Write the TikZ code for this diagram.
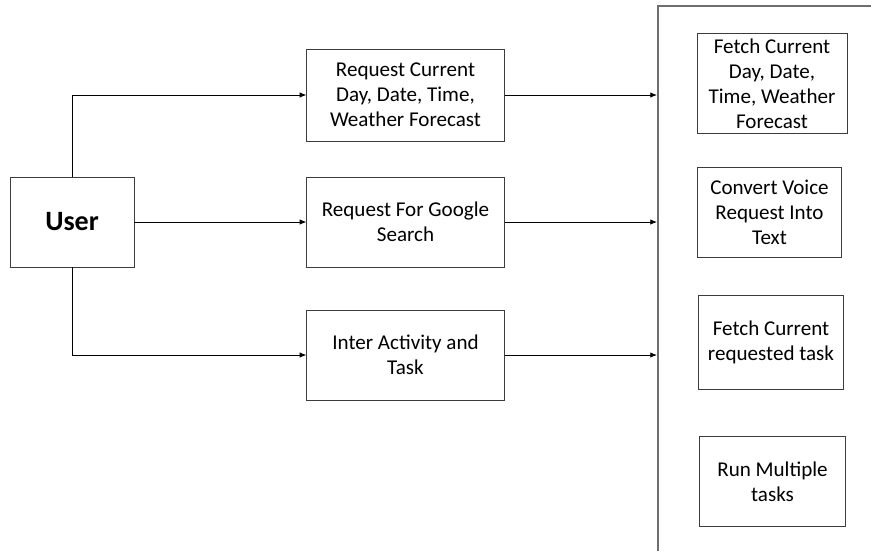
\documentclass[tikz,border=0pt]{standalone}
\usepackage{fontspec}
\setmainfont{Carlito}
\usetikzlibrary{arrows.meta,positioning}
\definecolor{edgecol}{RGB}{60,60,60}
\definecolor{panelcol}{RGB}{110,110,110}
\tikzset{
  arrow/.style={-{Latex[length=5pt,width=4pt]},line width=0.6pt},
  taskbox/.style={draw=edgecol,line width=0.7pt,align=center,font=\fontsize{15.8}{18.8}\selectfont,
    inner sep=1pt},
  userbox/.style={draw=edgecol,line width=0.7pt,minimum width=93pt,minimum height=67.5pt,
    font=\fontsize{21}{24}\selectfont\bfseries}
}
\begin{document}
\begin{tikzpicture}[x=0.75pt,y=-0.75pt]
  \useasboundingbox (0,0) rectangle (871,551);
  % user and requests
  \node[userbox] (user) at (72,222) {User};
  \node[taskbox,minimum width=148pt,minimum height=69pt] (req1) at (405.5,95)
    {Request Current\\Day, Date, Time,\\Weather Forecast};
  \node[taskbox,minimum width=148pt,minimum height=67.5pt] (req2) at (405.5,222)
    {Request For Google\\Search};
  \node[taskbox,minimum width=148pt,minimum height=67.5pt] (req3) at (405.5,355)
    {Inter Activity and\\Task};
  % system panel
  \draw[panelcol,line width=0.8pt] (658,551) -- (658,6) -- (871,6);
  \coordinate (in1) at (657,95);
  \coordinate (in2) at (657,222);
  \coordinate (in3) at (657,355);
  \node[taskbox,minimum width=112.5pt,minimum height=75.5pt] (fetch) at (772,83.5)
    {Fetch Current\\Day, Date,\\Time, Weather\\Forecast};
  \node[taskbox,minimum width=108.5pt,minimum height=67.5pt] (voice) at (769.5,212)
    {Convert Voice\\Request Into\\Text};
  \node[taskbox,minimum width=109pt,minimum height=70.5pt] (task) at (771,342)
    {Fetch Current\\requested task};
  \node[taskbox,minimum width=110pt,minimum height=67pt] (multi) at (772.5,481.5)
    {Run Multiple\\tasks};
  % connectors
  \draw[arrow] (user.north) |- (req1.west);
  \draw[arrow] (user.east) -- (req2.west);
  \draw[arrow] (user.south) |- (req3.west);
  \draw[arrow] (req1.east) -- (in1);
  \draw[arrow] (req2.east) -- (in2);
  \draw[arrow] (req3.east) -- (in3);
\end{tikzpicture}
\end{document}
